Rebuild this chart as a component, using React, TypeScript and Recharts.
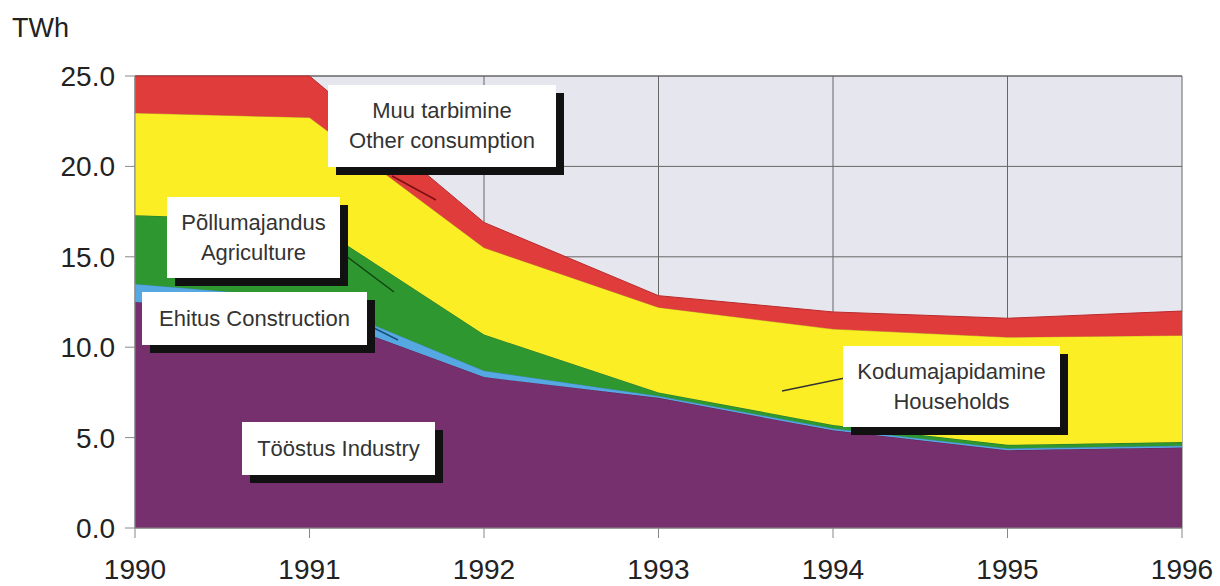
import React from "react";
import { AreaChart, Area, XAxis, YAxis, CartesianGrid } from "recharts";

const years = [1990, 1991, 1992, 1993, 1994, 1995, 1996];
const industry = [12.5, 11.9, 8.35, 7.2, 5.4, 4.3, 4.45];
const construction = [1.0, 0.8, 0.35, 0.1, 0.1, 0.1, 0.1];
const agriculture = [3.8, 4.3, 2.0, 0.2, 0.2, 0.2, 0.2];
const households = [5.65, 5.7, 4.8, 4.7, 5.3, 5.95, 5.9];
const other = [2.05, 2.3, 1.4, 0.65, 0.95, 1.05, 1.35];
const yTicks = [0, 5, 10, 15, 20, 25];

const data = years.map((y, i) => ({
  year: y,
  industry: industry[i],
  construction: construction[i],
  agriculture: agriculture[i],
  households: households[i],
  other: other[i],
}));

const FONT = '"Liberation Sans", Arial, sans-serif';

type BoxProps = { left: number; top: number; width: number; height: number; lines: string[] };
const LabelBox = ({ left, top, width, height, lines }: BoxProps) => (
  <>
    <div style={{ position: "absolute", left: left + 8, top: top + 8, width, height, background: "#111" }} />
    <div
      style={{
        position: "absolute",
        left,
        top,
        width,
        height,
        background: "#fff",
        display: "flex",
        flexDirection: "column",
        justifyContent: "center",
        alignItems: "center",
        fontFamily: FONT,
        fontSize: 22,
        lineHeight: "30px",
        color: "#333",
      }}
    >
      {lines.map((l) => (
        <div key={l}>{l}</div>
      ))}
    </div>
  </>
);

export default function App() {
  return (
    <div style={{ position: "absolute", left: 0, top: 0, width: 1220, height: 586, background: "#fff" }}>
      <AreaChart
        width={1220}
        height={586}
        data={data}
        margin={{ top: 76, right: 38, bottom: 0, left: 0 }}
      >
        <CartesianGrid fill="#e6e6ee" stroke="#666" strokeWidth={1} />
        <XAxis
          dataKey="year"
          type="number"
          domain={[1990, 1996]}
          ticks={years}
          height={58}
          tickSize={10}
          tickMargin={21}
          stroke="#888"
          tick={{ fill: "#222", fontSize: 28, fontFamily: FONT }}
        />
        <YAxis
          type="number"
          domain={[0, 25]}
          ticks={yTicks}
          width={135}
          tickSize={10}
          tickMargin={10}
          stroke="#888"
          tickFormatter={(v: number) => v.toFixed(1)}
          tick={{ fill: "#222", fontSize: 28, fontFamily: FONT }}
        />
        <Area type="linear" dataKey="industry" stackId="1" fill="#77306e" stroke="#5e2456" fillOpacity={1} isAnimationActive={false} />
        <Area type="linear" dataKey="construction" stackId="1" fill="#55a8e2" stroke="#3b86c0" fillOpacity={1} isAnimationActive={false} />
        <Area type="linear" dataKey="agriculture" stackId="1" fill="#2f972f" stroke="#237323" fillOpacity={1} isAnimationActive={false} />
        <Area type="linear" dataKey="households" stackId="1" fill="#fbee25" stroke="#c8b820" fillOpacity={1} isAnimationActive={false} />
        <Area type="linear" dataKey="other" stackId="1" fill="#e13c3c" stroke="#b82a2a" fillOpacity={1} isAnimationActive={false} />
      </AreaChart>

      <div style={{ position: "absolute", left: 12, top: 13, fontFamily: FONT, fontSize: 27, color: "#222" }}>TWh</div>

      <svg width={1220} height={586} style={{ position: "absolute", left: 0, top: 0, pointerEvents: "none" }}>
        <line x1={392} y1={176} x2={436} y2={200} stroke="#7a1010" strokeWidth={1.5} />
        <line x1={346} y1={256} x2={394} y2={292} stroke="#114411" strokeWidth={1.5} />
        <line x1={368} y1={325} x2={398} y2={340} stroke="#1c4f7a" strokeWidth={1.5} />
        <line x1={845} y1={378} x2={782} y2={391} stroke="#333" strokeWidth={1.5} />
      </svg>

      <LabelBox left={328} top={85} width={228} height={82} lines={["Muu tarbimine", "Other consumption"]} />
      <LabelBox left={167} top={197} width={173} height={81} lines={["Põllumajandus", "Agriculture"]} />
      <LabelBox left={142} top={292} width={225} height={53} lines={["Ehitus Construction"]} />
      <LabelBox left={242} top={422} width={193} height={53} lines={["Tööstus Industry"]} />
      <LabelBox left={843} top={346} width={217} height={81} lines={["Kodumajapidamine", "Households"]} />
    </div>
  );
}
